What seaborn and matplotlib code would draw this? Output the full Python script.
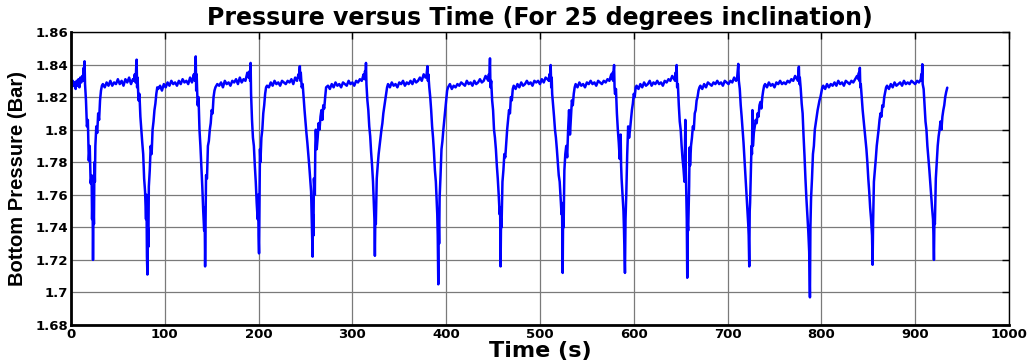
import pandas as pd
import seaborn as sns
import matplotlib.pyplot as plt

# (time s, bottom pressure bar), one list per stretch
seg01 = [(0, 1.829), (1, 1.826), (2, 1.830), (3, 1.827), (4, 1.829), (5, 1.825), (6, 1.830), (7, 1.827),
         (8, 1.831), (9, 1.826), (10, 1.832), (11, 1.829), (12, 1.833), (13, 1.830), (13.5, 1.838), (14, 1.834),
         (14.5, 1.842), (15, 1.828), (16, 1.818), (17, 1.802), (18, 1.806), (19, 1.781), (20, 1.790), (21, 1.767),
         (22, 1.772), (22.5, 1.745), (23, 1.760), (23.5, 1.720), (24, 1.752), (24.5, 1.742), (25, 1.780),
         (25.5, 1.768), (26, 1.790), (27, 1.802), (28, 1.798), (29, 1.810), (30, 1.806), (31, 1.818), (32, 1.824),
         (33, 1.827)]
flat01 = [(34, 1.828), (36, 1.826), (38, 1.829), (40, 1.827), (42, 1.830), (44, 1.827), (46, 1.829), (48, 1.828),
          (50, 1.831), (52, 1.828), (54, 1.830), (56, 1.827), (58, 1.831), (60, 1.829), (62, 1.832), (64, 1.828),
          (66, 1.831)]
seg02 = [(67, 1.830), (68, 1.834), (69, 1.829), (69.5, 1.838), (70, 1.843), (70.5, 1.826), (71, 1.832), (72, 1.818),
         (73, 1.822), (74, 1.808), (75, 1.800), (76, 1.792), (77, 1.785), (78, 1.770), (79, 1.762), (80, 1.745),
         (80.5, 1.760), (81, 1.722), (81.5, 1.711), (82, 1.740), (82.5, 1.728), (83, 1.765), (84, 1.775), (85, 1.790),
         (86, 1.785), (87, 1.800), (88, 1.805), (89, 1.812), (90, 1.816), (91, 1.822), (92, 1.826)]
flat02 = [(93, 1.825), (95, 1.827), (97, 1.824), (99, 1.828), (101, 1.826), (103, 1.829), (105, 1.827), (107, 1.830),
          (109, 1.828), (111, 1.829), (113, 1.827), (115, 1.830), (117, 1.828), (119, 1.831), (121, 1.829),
          (123, 1.830), (125, 1.828), (127, 1.832), (129, 1.829), (131, 1.834)]
seg03 = [(132, 1.830), (132.5, 1.838), (133, 1.845), (133.5, 1.824), (134, 1.834), (135, 1.815), (136, 1.820),
         (137, 1.800), (138, 1.790), (139, 1.778), (140, 1.765), (141, 1.750), (142, 1.738), (142.5, 1.752),
         (143, 1.716), (143.5, 1.745), (144, 1.772), (145, 1.770), (146, 1.790), (147, 1.793), (148, 1.800),
         (149, 1.804), (150, 1.812), (151, 1.810), (152, 1.820), (153, 1.824)]
flat03 = [(154, 1.826), (156, 1.828), (158, 1.827), (160, 1.829), (162, 1.826), (164, 1.830), (166, 1.828),
          (168, 1.829), (170, 1.827), (172, 1.830), (174, 1.829), (176, 1.831), (178, 1.828), (180, 1.832),
          (182, 1.829), (184, 1.831), (186, 1.830), (188, 1.835), (189.5, 1.832)]
seg04 = [(190.5, 1.836), (191, 1.830), (191.5, 1.841), (192, 1.822), (192.5, 1.814), (193, 1.806), (194, 1.795),
         (195, 1.790), (196, 1.778), (197, 1.768), (198, 1.755), (199, 1.745), (199.5, 1.760), (200, 1.735),
         (200.5, 1.724), (201, 1.760), (201.5, 1.788), (202, 1.780), (203, 1.795), (204, 1.800), (205, 1.810),
         (206, 1.815), (207, 1.822), (208, 1.826)]
flat04 = [(209, 1.827), (211, 1.826), (213, 1.829), (215, 1.827), (217, 1.830), (219, 1.828), (221, 1.829),
          (223, 1.827), (225, 1.830), (227, 1.829), (229, 1.828), (231, 1.830), (233, 1.829), (235, 1.831),
          (237, 1.828), (239, 1.832), (241, 1.830), (242.5, 1.834)]
seg05 = [(243, 1.832), (244, 1.839), (244.5, 1.830), (245, 1.835), (246, 1.826), (247, 1.828), (248, 1.820),
         (249, 1.812), (250, 1.805), (251, 1.798), (252, 1.792), (253, 1.785), (254, 1.778), (255, 1.770),
         (256, 1.762), (256.5, 1.750), (257, 1.740), (257.6, 1.722), (258, 1.748), (258.5, 1.735), (259, 1.770),
         (260, 1.760), (260.5, 1.790), (261, 1.800), (262, 1.788), (263, 1.795), (264, 1.804), (265, 1.800),
         (266, 1.808), (267, 1.812), (268, 1.806), (269, 1.815), (270, 1.813), (271, 1.820), (272, 1.826)]
flat05 = [(274, 1.827), (276, 1.825), (278, 1.828), (280, 1.826), (282, 1.829), (284, 1.827), (286, 1.828),
          (288, 1.826), (290, 1.829), (292, 1.828), (294, 1.827), (296, 1.830), (298, 1.828), (300, 1.829),
          (302, 1.827), (304, 1.830), (306, 1.829), (308, 1.831), (310, 1.830), (312, 1.834)]
seg06 = [(313, 1.831), (313.5, 1.836), (314, 1.832), (314.5, 1.841), (315, 1.828), (315.5, 1.823), (316, 1.818),
         (317, 1.812), (318, 1.802), (319, 1.796), (320, 1.786), (321, 1.778), (322, 1.768), (322.5, 1.760),
         (323, 1.752), (323.5, 1.745), (324, 1.7225), (324.5, 1.748), (325, 1.742), (326, 1.770), (327, 1.778),
         (328, 1.785), (329, 1.790), (330, 1.795), (331, 1.800), (332, 1.804), (333, 1.810), (334, 1.814),
         (335, 1.818), (336, 1.822), (337, 1.826)]
flat06 = [(338, 1.828), (340, 1.826), (342, 1.829), (344, 1.827), (346, 1.828), (348, 1.826), (350, 1.829),
          (352, 1.828), (354, 1.830), (356, 1.827), (358, 1.829), (360, 1.828), (362, 1.830), (364, 1.828),
          (366, 1.831), (368, 1.829), (370, 1.830), (372, 1.832), (374, 1.830), (376, 1.834), (378, 1.832)]
seg07 = [(379, 1.833), (379.5, 1.836), (380, 1.839), (380.5, 1.830), (381, 1.834), (382, 1.826), (383, 1.820),
         (384, 1.812), (385, 1.802), (386, 1.795), (387, 1.786), (388, 1.775), (389, 1.768), (390, 1.755),
         (390.5, 1.748), (391, 1.735), (391.6, 1.705), (392, 1.745), (392.5, 1.730), (393, 1.758), (394, 1.772),
         (395, 1.788), (396, 1.793), (397, 1.800), (398, 1.806), (399, 1.812), (400, 1.818), (401, 1.824)]
flat07 = [(402, 1.826), (404, 1.828), (406, 1.825), (408, 1.827), (410, 1.826), (412, 1.828), (414, 1.827),
          (416, 1.829), (418, 1.828), (420, 1.827), (422, 1.830), (424, 1.828), (426, 1.829), (428, 1.827),
          (430, 1.830), (432, 1.828), (434, 1.829), (436, 1.831), (438, 1.829), (440, 1.830), (442, 1.833),
          (444, 1.831)]
seg08 = [(445, 1.830), (445.5, 1.834), (446, 1.831), (446.7, 1.8438), (447.2, 1.826), (448, 1.830), (449, 1.818),
         (450, 1.812), (451, 1.800), (452, 1.795), (453, 1.788), (454, 1.778), (455, 1.770), (456, 1.760),
         (457, 1.748), (457.5, 1.752), (458, 1.716), (458.5, 1.745), (459, 1.740), (460, 1.768), (461, 1.775),
         (462, 1.785), (463, 1.783), (464, 1.792), (465, 1.800), (466, 1.806), (467, 1.812), (468, 1.810),
         (469, 1.820), (470, 1.818), (471, 1.825)]
flat08 = [(472, 1.827), (474, 1.825), (476, 1.828), (478, 1.826), (480, 1.829), (482, 1.827), (484, 1.828),
          (486, 1.830), (488, 1.828), (490, 1.829), (492, 1.827), (494, 1.830), (496, 1.829), (498, 1.830),
          (500, 1.828), (502, 1.831), (504, 1.829), (506, 1.832), (508, 1.831)]
seg09 = [(509.5, 1.830), (510, 1.834), (510.5, 1.830), (511, 1.836), (511.4, 1.8397), (512, 1.826), (512.5, 1.832),
         (513, 1.822), (514, 1.815), (515, 1.808), (516, 1.800), (517, 1.795), (518, 1.788), (519, 1.780),
         (520, 1.772), (521, 1.768), (522, 1.758), (523, 1.748), (523.5, 1.755), (524.2, 1.712), (524.7, 1.750),
         (525.2, 1.740), (526, 1.775), (527, 1.785), (528, 1.790), (529, 1.783), (530, 1.800), (531, 1.812),
         (532, 1.797), (533, 1.808), (534, 1.818), (535, 1.815), (536, 1.822), (537, 1.826)]
flat09 = [(538, 1.828), (540, 1.826), (542, 1.829), (544, 1.827), (546, 1.828), (548, 1.826), (550, 1.829),
          (552, 1.828), (554, 1.830), (556, 1.828), (558, 1.829), (560, 1.827), (562, 1.830), (564, 1.829),
          (566, 1.828), (568, 1.830), (570, 1.829), (572, 1.831), (574, 1.830), (576, 1.834)]
seg10 = [(577, 1.831), (577.5, 1.835), (578, 1.830), (578.5, 1.836), (579, 1.8397), (579.5, 1.826), (580, 1.822),
         (581, 1.825), (582, 1.810), (583, 1.800), (584, 1.792), (585, 1.782), (586, 1.797), (586.5, 1.778),
         (587, 1.770), (588, 1.760), (589, 1.750), (589.5, 1.740), (590.6, 1.712), (591.2, 1.745), (592, 1.760),
         (593, 1.785), (594, 1.802), (595, 1.795), (596, 1.800), (597, 1.806), (598, 1.812), (599, 1.816),
         (600, 1.822), (601, 1.820), (602, 1.826)]
flat10 = [(603, 1.827), (605, 1.825), (607, 1.828), (609, 1.826), (611, 1.829), (613, 1.827), (615, 1.828),
          (617, 1.830), (619, 1.827), (621, 1.829), (623, 1.828), (625, 1.830), (627, 1.828), (629, 1.829),
          (631, 1.827), (633, 1.830), (635, 1.829), (637, 1.831), (639, 1.830), (641, 1.833), (643, 1.831)]
seg11 = [(644, 1.830), (644.5, 1.835), (645, 1.831), (645.7, 1.8397), (646.2, 1.826), (647, 1.828), (648, 1.815),
         (649, 1.805), (650, 1.800), (651, 1.790), (652, 1.782), (653, 1.776), (654, 1.768), (655, 1.806),
         (655.5, 1.775), (656, 1.760), (656.5, 1.745), (657, 1.709), (657.5, 1.742), (658, 1.738), (659, 1.765),
         (659.5, 1.789), (660, 1.778), (661, 1.790), (662, 1.795), (663, 1.802), (664, 1.800), (665, 1.810),
         (666, 1.812), (667, 1.818), (668, 1.820), (669, 1.824), (670, 1.826)]
flat11 = [(671, 1.827), (673, 1.825), (675, 1.828), (677, 1.826), (679, 1.829), (681, 1.828), (683, 1.827),
          (685, 1.829), (687, 1.828), (689, 1.830), (691, 1.828), (693, 1.829), (695, 1.827), (697, 1.830),
          (699, 1.829), (701, 1.828), (703, 1.830), (705, 1.829), (707, 1.832), (709, 1.830)]
seg12 = [(710, 1.831), (710.5, 1.834), (711, 1.838), (711.4, 1.8404), (712, 1.830), (713, 1.825), (714, 1.815),
         (715, 1.808), (716, 1.800), (717, 1.792), (718, 1.782), (719, 1.772), (720, 1.762), (721, 1.752),
         (722, 1.742), (722.5, 1.735), (723.1, 1.716), (723.6, 1.750), (724, 1.755), (725, 1.778), (725.5, 1.790),
         (726, 1.785), (726.5, 1.812), (727, 1.790), (728, 1.798), (729, 1.802), (730, 1.806), (731, 1.804),
         (732, 1.810), (733, 1.808), (734, 1.815), (735, 1.817), (736, 1.813), (737, 1.820), (738, 1.824),
         (739, 1.827)]
flat12 = [(740, 1.828), (742, 1.826), (744, 1.829), (746, 1.827), (748, 1.828), (750, 1.826), (752, 1.829),
          (754, 1.828), (756, 1.830), (758, 1.828), (760, 1.829), (762, 1.828), (764, 1.830), (766, 1.829),
          (768, 1.831), (770, 1.830), (772, 1.833), (774, 1.831)]
seg13 = [(775, 1.830), (775.5, 1.835), (776, 1.8387), (776.5, 1.828), (777, 1.832), (778, 1.825), (779, 1.816),
         (780, 1.810), (781, 1.796), (782, 1.784), (783, 1.770), (784, 1.758), (785, 1.748), (786, 1.738),
         (787, 1.725), (787.8, 1.697), (788.3, 1.740), (789, 1.758), (790, 1.770), (791, 1.785), (792, 1.790),
         (793, 1.800), (794, 1.804), (795, 1.808), (796, 1.812), (797, 1.815), (798, 1.818), (799, 1.820),
         (800, 1.823), (801, 1.826)]
flat13 = [(802, 1.827), (804, 1.825), (806, 1.828), (808, 1.826), (810, 1.828), (812, 1.827), (814, 1.829),
          (816, 1.827), (818, 1.830), (820, 1.828), (822, 1.829), (824, 1.827), (826, 1.830), (828, 1.829),
          (830, 1.828), (832, 1.830), (834, 1.829), (836, 1.831), (838, 1.833)]
seg14 = [(839.5, 1.831), (840, 1.835), (840.5, 1.830), (841, 1.838), (841.5, 1.826), (842, 1.828), (843, 1.820),
         (844, 1.812), (845, 1.806), (846, 1.800), (847, 1.794), (848, 1.788), (849, 1.780), (850, 1.770),
         (851, 1.762), (852, 1.752), (853, 1.745), (854, 1.735), (854.6, 1.717), (855.1, 1.742), (856, 1.768),
         (857, 1.775), (858, 1.782), (859, 1.790), (860, 1.795), (861, 1.800), (862, 1.806), (863, 1.810),
         (864, 1.808), (865, 1.815), (866, 1.814), (867, 1.820), (868, 1.823), (869, 1.826)]
flat14 = [(870, 1.827), (872, 1.825), (874, 1.828), (876, 1.826), (878, 1.829), (880, 1.827), (882, 1.828),
          (884, 1.829), (886, 1.827), (888, 1.830), (890, 1.828), (892, 1.829), (894, 1.828), (896, 1.830),
          (898, 1.829), (900, 1.828), (902, 1.830), (904, 1.829), (906, 1.831)]
seg15 = [(906.5, 1.834), (907, 1.830), (907.6, 1.8402), (908, 1.828), (909, 1.825), (910, 1.815), (911, 1.805),
         (912, 1.800), (913, 1.790), (914, 1.783), (915, 1.776), (916, 1.768), (917, 1.760), (918, 1.752),
         (919, 1.745), (919.5, 1.735), (920, 1.720), (920.5, 1.745), (921, 1.742), (922, 1.770), (923, 1.780),
         (924, 1.790), (925, 1.796), (926, 1.800), (927, 1.805), (928, 1.800), (929, 1.808), (930, 1.812),
         (931, 1.815), (932, 1.820), (933, 1.823), (934.2, 1.8258)]

segments = [seg01, flat01, seg02, flat02, seg03, flat03, seg04, flat04, seg05, flat05,
            seg06, flat06, seg07, flat07, seg08, flat08, seg09, flat09, seg10, flat10,
            seg11, flat11, seg12, flat12, seg13, flat13, seg14, flat14, seg15]

x_ticks = list(range(0, 1001, 100))
y_ticks = [1.68, 1.70, 1.72, 1.74, 1.76, 1.78, 1.80, 1.82, 1.84, 1.86]
y_labels = ['1.68', '1.7', '1.72', '1.74', '1.76', '1.78', '1.8', '1.82', '1.84', '1.86']

df = pd.DataFrame([pt for s in segments for pt in s], columns=['time', 'pressure'])

sns.set_style('white')
plt.rcParams['font.family'] = ['DejaVu Sans']
plt.rcParams['text.color'] = 'black'
plt.rcParams['axes.labelcolor'] = 'black'
plt.rcParams['xtick.color'] = 'black'
plt.rcParams['ytick.color'] = 'black'

fig = plt.figure(figsize=(10.3, 3.61), dpi=100)
ax = fig.add_axes([0.0689, 0.0997, 0.9107, 0.8117])

sns.lineplot(data=df, x='time', y='pressure', color='#0000ff', linewidth=1.8,
             estimator=None, sort=False, ax=ax)

ax.set_xlim(0, 1000)
ax.set_ylim(1.68, 1.86)
ax.set_xticks(x_ticks)
ax.set_xticklabels([str(v) for v in x_ticks], fontsize=9.5, fontweight='bold')
ax.set_yticks(y_ticks)
ax.set_yticklabels(y_labels, fontsize=9.5, fontweight='bold')
ax.grid(True, color='#7a7a7a', linewidth=0.9)
ax.tick_params(direction='in', length=5, width=1, top=True, right=True, pad=2)

for side in ['left', 'bottom']:
    ax.spines[side].set_linewidth(2)
for side in ['top', 'right']:
    ax.spines[side].set_linewidth(1)
for sp in ax.spines.values():
    sp.set_color('black')
    sp.set_visible(True)

ax.set_title('Pressure versus Time (For 25 degrees inclination)', fontsize=17,
             fontweight='bold', pad=5)
ax.set_xlabel('Time (s)', fontsize=16, fontweight='bold', labelpad=0)
ax.set_ylabel('Bottom Pressure (Bar)', fontsize=14.5, fontweight='bold',
              family=['Liberation Sans', 'DejaVu Sans'], labelpad=6)

fig.savefig('out.png', dpi=100)
